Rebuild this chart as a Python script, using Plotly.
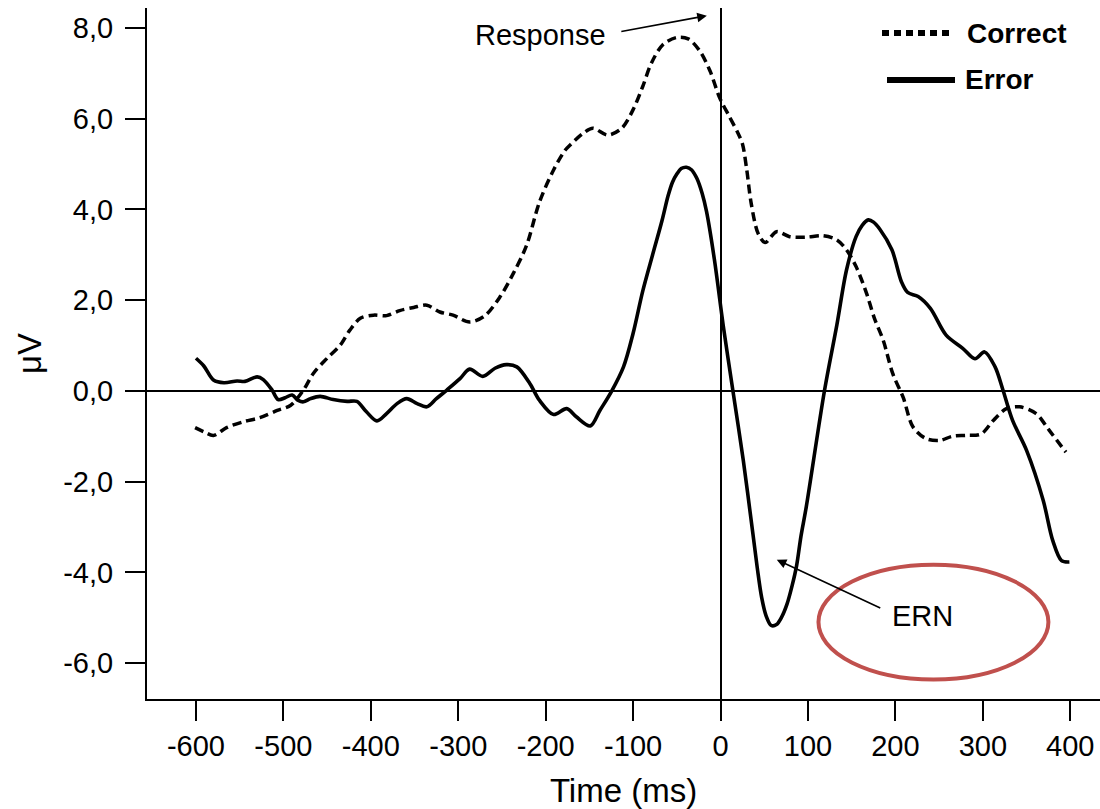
import plotly.graph_objects as go

# ---- data ----
error_t = [-600, -591, -580, -568, -553, -544, -530, -523, -513, -506, -498, -490, -483, -477,
           -469, -458, -443, -427, -416, -405, -393, -382, -370, -359, -347, -336, -325, -313,
           -298, -287, -272, -258, -245, -233, -218, -207, -191, -176, -165, -149, -138, -125,
           -111, -100, -89, -77, -67, -60, -55, -50, -45, -39, -33, -27, -21, -16, -7, 3, 14, 26,
           37, 42, 47, 52, 58, 64, 70, 76, 82, 87, 92, 98, 119, 133, 144, 155, 162, 169, 175, 182, 196, 207,
           214, 226, 240, 258, 277, 291, 302, 314, 323, 334, 350, 369, 380, 390, 399]
error_v = [0.72, 0.55, 0.24, 0.18, 0.22, 0.21, 0.31, 0.25, 0.02, -0.19, -0.15, -0.09, -0.21, -0.24,
           -0.17, -0.12, -0.19, -0.23, -0.23, -0.46, -0.66, -0.50, -0.28, -0.17, -0.28, -0.35, -0.17, 0.02,
           0.27, 0.48, 0.32, 0.50, 0.58, 0.53, 0.16, -0.21, -0.52, -0.39, -0.57, -0.77, -0.43, -0.02,
           0.53, 1.27, 2.20, 3.05, 3.75, 4.30, 4.60, 4.78, 4.90, 4.93, 4.87, 4.68, 4.35, 3.95, 2.89, 1.45, 0.02, -1.53,
           -3.15, -3.90, -4.55, -4.95, -5.17, -5.15, -4.98, -4.70, -4.28, -3.85, -3.20, -2.56, 0.02, 1.45, 2.66, 3.40, 3.65, 3.77, 3.72, 3.57, 3.11, 2.40,
           2.17, 2.08, 1.82, 1.23, 0.94, 0.71, 0.86, 0.53, 0.02, -0.65, -1.31, -2.41, -3.30, -3.74, -3.77]

correct_t = [-601, -591, -580, -565, -546, -527, -507, -492, -477, -466, -450, -435, -424, -412,
             -397, -382, -367, -351, -336, -321, -306, -287, -270, -252, -237, -222, -207, -191,
             -178, -172, -157, -146, -129, -113, -100, -89, -79, -66, -50, -37, -24, -12, -1, 10,
             20, 25, 30, 35, 43, 51, 64, 79, 98, 117, 133, 144, 155, 167, 176, 186, 197, 209, 220,
             235, 251, 265, 281, 298, 312, 327, 342, 361, 376, 395]
correct_v = [-0.81, -0.90, -0.98, -0.81, -0.68, -0.59, -0.43, -0.32, 0.02, 0.38, 0.72, 1.01, 1.34, 1.60,
             1.67, 1.66, 1.77, 1.84, 1.89, 1.74, 1.67, 1.52, 1.65, 2.08, 2.59, 3.20, 4.17, 4.87,
             5.30, 5.42, 5.68, 5.79, 5.64, 5.79, 6.20, 6.71, 7.23, 7.63, 7.79, 7.76, 7.50, 7.05, 6.46, 6.05,
             5.68, 5.45, 4.87, 4.14, 3.47, 3.27, 3.51, 3.40, 3.39, 3.42, 3.33, 3.11, 2.74, 2.15, 1.60, 1.12, 0.38, -0.15, -0.79,
             -1.05, -1.09, -1.00, -0.98, -0.95, -0.65, -0.39, -0.35, -0.50, -0.87, -1.35]

x_ticks = [-600, -500, -400, -300, -200, -100, 0, 100, 200, 300, 400]
x_labels = ["-600", "-500", "-400", "-300", "-200", "-100", "0", "100", "200", "300", "400"]
y_ticks = [-6, -4, -2, 0, 2, 4, 6, 8]
y_labels = ["-6,0", "-4,0", "-2,0", "0,0", "2,0", "4,0", "6,0", "8,0"]

FONT = "Liberation Sans, Arial, sans-serif"

fig = go.Figure()
fig.add_trace(go.Scatter(x=correct_t, y=correct_v, mode="lines", name="Correct",
                         line=dict(color="black", width=3.5, dash="9px,5px", shape="spline", smoothing=0.9)))
fig.add_trace(go.Scatter(x=error_t, y=error_v, mode="lines", name="Error",
                         line=dict(color="black", width=3.6, shape="spline", smoothing=0.9)))

# plot-area geometry in pixels (for legend placement)
L, R, T, B = 147, 1100, 8, 699
def px(xp):
    return (xp - L) / (R - L)
def py(yp):
    return (B - yp) / (B - T)

shapes = [
    # red ellipse round the ERN label
    dict(type="circle", xref="x", yref="y", x0=112, x1=375, y0=-6.36, y1=-3.83,
         line=dict(color="#C0504D", width=4)),
    # hand-made legend samples
    dict(type="line", xref="paper", yref="paper", x0=px(882), x1=px(952), y0=py(33), y1=py(33),
         line=dict(color="black", width=6, dash="7px,5px")),
    dict(type="line", xref="paper", yref="paper", x0=px(887), x1=px(955), y0=py(80), y1=py(80),
         line=dict(color="black", width=6)),
]

annotations = [
    dict(xref="paper", yref="paper", x=px(965), y=py(33), text="<b>Correct</b>", showarrow=False,
         xanchor="left", yanchor="middle", font=dict(size=28, color="black", family=FONT)),
    dict(xref="paper", yref="paper", x=px(963), y=py(80), text="<b>Error</b>", showarrow=False,
         xanchor="left", yanchor="middle", font=dict(size=28, color="black", family=FONT)),
    dict(x=-206, y=7.85, text="Response", showarrow=False, xanchor="center", yanchor="middle",
         font=dict(size=29, color="black", family=FONT)),
    dict(x=-15.7, y=8.27, ax=-87, ay=16, text="", showarrow=True, arrowhead=2, arrowsize=1.2,
         arrowwidth=1.6, arrowcolor="black"),
    dict(x=231, y=-4.95, text="ERN", showarrow=False, xanchor="center", yanchor="middle",
         font=dict(size=29, color="black", family=FONT)),
    dict(x=64.3, y=-3.72, ax=105, ay=49, text="", showarrow=True, arrowhead=2, arrowsize=1.2,
         arrowwidth=1.6, arrowcolor="black"),
]

fig.update_layout(
    width=1100, height=809,
    margin=dict(l=L, r=1100 - R, t=T, b=809 - B),
    paper_bgcolor="white", plot_bgcolor="white",
    showlegend=False,
    font=dict(family=FONT, color="black"),
    shapes=shapes, annotations=annotations,
    xaxis=dict(range=[-656, 434], showgrid=False, zeroline=True, zerolinecolor="black", zerolinewidth=1.8,
               showline=True, linecolor="black", linewidth=2, ticks="outside", ticklen=20, tickwidth=2,
               tickcolor="black", tickvals=x_ticks, ticktext=x_labels, tickfont=dict(size=29),
               title=dict(text="Time (ms)", font=dict(size=33), standoff=18)),
    yaxis=dict(range=[-6.79, 8.44], showgrid=False, zeroline=True, zerolinecolor="black", zerolinewidth=1.8,
               showline=True, linecolor="black", linewidth=2, ticks="outside", ticklen=20, tickwidth=2,
               tickcolor="black", tickvals=y_ticks, ticktext=y_labels, tickfont=dict(size=29),
               ticklabelstandoff=6,
               title=dict(text="μV", font=dict(size=33), standoff=12)),
)

fig.write_html("out.html")
